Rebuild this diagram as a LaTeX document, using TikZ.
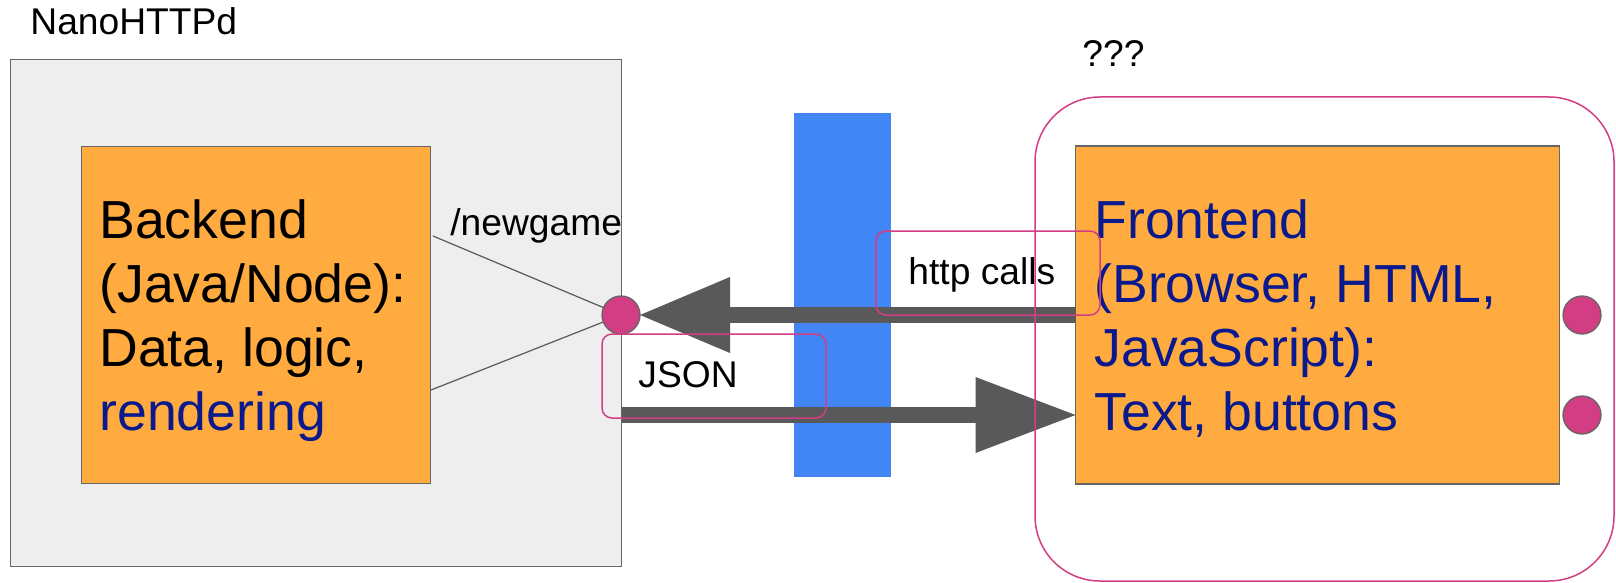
\documentclass[tikz,border=0pt]{standalone}
\usepackage{fontspec}
\setmainfont{Liberation Sans}
\usetikzlibrary{arrows.meta}
\definecolor{boxgray}{HTML}{EEEEEE}
\definecolor{edgegray}{HTML}{666666}
\definecolor{orng}{HTML}{FFAB40}
\definecolor{barblue}{HTML}{4285F4}
\definecolor{pinkc}{HTML}{D23D84}
\definecolor{arrowgray}{HTML}{595959}
\definecolor{navy}{HTML}{0A1A8C}
\begin{document}
\begin{tikzpicture}[x=0.5pt,y=-0.5pt,
  box/.style={draw=edgegray, line width=0.65pt, inner sep=0pt, outer sep=0pt},
  bigtext/.style={font=\fontsize{26.8}{32}\selectfont, inner sep=0pt, anchor=base west},
  lbl/.style={font=\fontsize{18.6}{21}\selectfont, inner sep=0pt, anchor=base west},
  dot/.style={circle, fill=pinkc, draw=edgegray, line width=0.65pt, minimum size=19pt, inner sep=0pt, outer sep=0pt},
  tag/.style={draw=pinkc, line width=0.75pt, rounded corners=5pt, inner sep=0pt, minimum width=112pt, minimum height=42pt},
  thin/.style={draw=arrowgray, line width=0.6pt},
  bigarrow/.style={draw=arrowgray, line width=8pt, -{Triangle[length=#1,width=38pt,line width=0pt]}},
  bigarrow/.default=45pt,
]
\useasboundingbox (0,0) rectangle (1616,583);
\fill[white] (0,0) rectangle (1616,583);

% server box
\node[box, fill=boxgray, minimum width=305.5pt, minimum height=253.5pt] (nano) at (316,313.3) {};
\node[lbl] (nanolbl) at (30,35) {NanoHTTPd};

% backend
\node[box, fill=orng, minimum width=174.75pt, minimum height=168.5pt] (backend) at (256,315) {};
\node[bigtext] (betext) at (99,238) {\begin{tabular}[t]{@{}l@{}}Backend\\(Java/Node):\\Data, logic,\\\textcolor{navy}{rendering}\end{tabular}};

% endpoint lines
\coordinate (t1) at (433,236);
\coordinate (t2) at (431,390);
\coordinate (portc) at (621,315);
\draw[thin] (t1) -- (portc);
\draw[thin] (t2) -- (portc);
\node[lbl] (newgame) at (450,235) {/newgame};

% network bar
\node[fill=barblue, inner sep=0pt, minimum width=48.5pt, minimum height=182pt] (bar) at (842.5,295) {};

% frontend
\node[box, fill=orng, minimum width=242pt, minimum height=169pt] (frontend) at (1317.5,315) {};
\node[bigtext, text=navy] (fetext) at (1094,238) {\begin{tabular}[t]{@{}l@{}}Frontend\\(Browser, HTML,\\JavaScript):\\Text, buttons\end{tabular}};
\node[dot] (fp1) at (1582,315) {};
\node[dot] (fp2) at (1582,415) {};

% port
\node[dot] (port) at (portc) {};

% arrows
\draw[bigarrow=45pt] (frontend.west) -- (port.east);
\draw[bigarrow=50pt] (nano.east |- fp2) -- (frontend.west |- fp2);

% client outline
\node[draw=pinkc, line width=0.75pt, rounded corners=32.5pt, inner sep=0pt, minimum width=289.5pt, minimum height=242pt] (client) at (1324.5,339) {};
\node[lbl] (qq) at (1082,67) {???};

% labels on arrows
\node[tag] (jsonbox) at (714,376) {};
\node[lbl] (json) at (638,387) {JSON};
\node[tag] (httpbox) at (988,273) {};
\node[lbl] (http) at (908,284) {http calls};
\end{tikzpicture}
\end{document}
